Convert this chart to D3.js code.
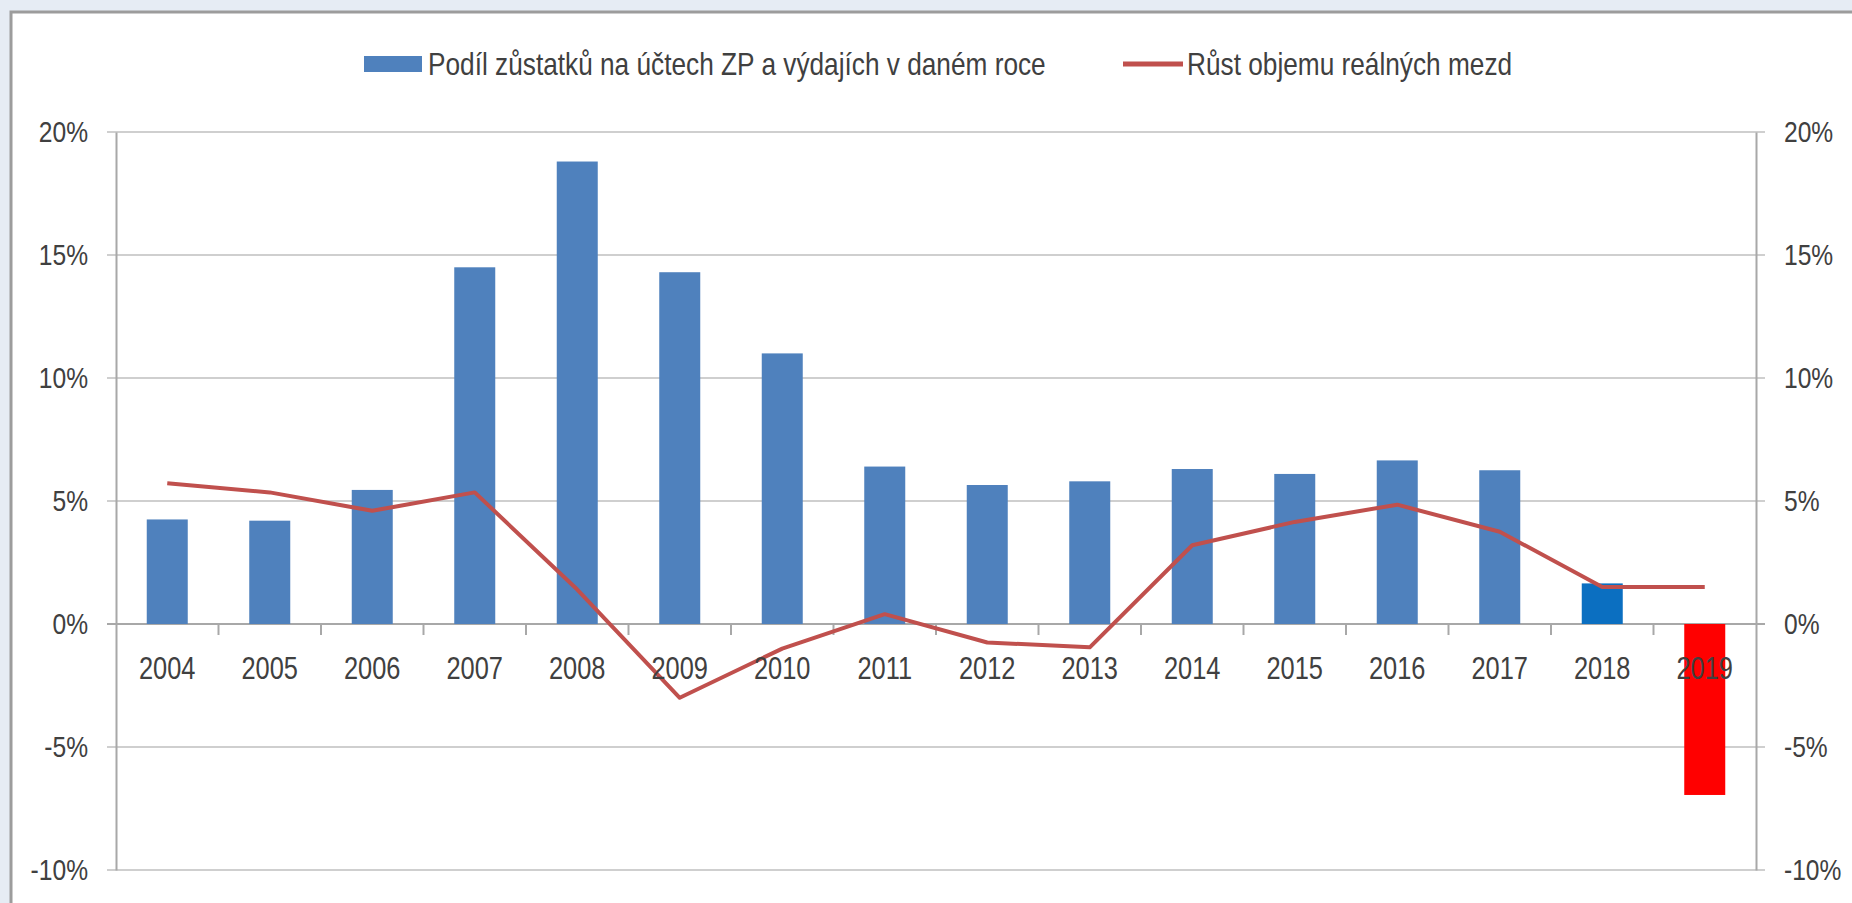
<!DOCTYPE html>
<html>
<head>
<meta charset="utf-8">
<script src="https://cdn.jsdelivr.net/npm/d3@7"></script>
<style>
  html, body { margin: 0; padding: 0; background: #e6ecf4; overflow: hidden; }
  svg { display: block; }
  text { font-family: 'Liberation Sans', Arial, sans-serif; fill: #404040; }
</style>
</head>
<body>
<svg id="chart" width="1852" height="903"></svg>
<script>
const years = ["2004","2005","2006","2007","2008","2009","2010","2011","2012","2013","2014","2015","2016","2017","2018","2019"];
const barValues = [4.25, 4.2, 5.45, 14.5, 18.8, 14.3, 11.0, 6.4, 5.65, 5.8, 6.3, 6.1, 6.65, 6.25, 1.65, -6.95];
const lineValues = [5.72, 5.35, 4.6, 5.35, 1.4, -3.0, -1.0, 0.4, -0.75, -0.95, 3.2, 4.15, 4.85, 3.75, 1.5, 1.5];
const yTicks = [-10, -5, 0, 5, 10, 15, 20];
const legendLabels = ["Podíl zůstatků na účtech ZP a výdajích v daném roce", "Růst objemu reálných mezd"];
const barColors = years.map((y, i) => i === 14 ? "#0b6fc1" : (i === 15 ? "#ff0000" : "#4f81bd"));

const SX = 0.82; // narrow-font emulation
function narrow(sel) {
  sel.each(function () {
    const t = d3.select(this);
    const xv = +(t.attr("x") || 0);
    t.attr("x", xv / SX).attr("transform", `scale(${SX},1)`);
  });
}

const svg = d3.select("#chart");
const plotLeft = 116, plotRight = 1756, plotTop = 132, plotBottom = 870;

// frame
svg.append("rect").attr("x", 11).attr("y", 12).attr("width", 1900).attr("height", 950)
  .attr("fill", "#ffffff").attr("stroke", "#9c9c9c").attr("stroke-width", 3);

const x = d3.scaleBand().domain(years).range([plotLeft, plotRight]).paddingInner(0.6).paddingOuter(0.3);
const y = d3.scaleLinear().domain([-10, 20]).range([plotBottom, plotTop]);
const step = x.step();

// gridlines
svg.append("g").selectAll("line").data(yTicks).join("line")
  .attr("x1", plotLeft - 9).attr("x2", plotRight + 9)
  .attr("y1", d => y(d)).attr("y2", d => y(d))
  .attr("stroke", d => d === 0 ? "#a8a8a8" : "#cfcfcf").attr("stroke-width", 2);

// left axis
const gL = svg.append("g").attr("transform", `translate(${plotLeft},0)`)
  .call(d3.axisLeft(y).tickValues(yTicks).tickFormat(d => d + "%").tickSize(0).tickPadding(28));
gL.attr("font-family", null).attr("font-size", null);
gL.select(".domain").attr("stroke", "#a8a8a8").attr("stroke-width", 2);
gL.selectAll("text").style("font-size", "30px").attr("fill", "#404040").call(narrow);

// right axis
const gR = svg.append("g").attr("transform", `translate(${plotRight},0)`)
  .call(d3.axisRight(y).tickValues(yTicks).tickFormat(d => d + "%").tickSize(0).tickPadding(28));
gR.attr("font-family", null).attr("font-size", null);
gR.select(".domain").attr("stroke", "#a8a8a8").attr("stroke-width", 2);
gR.selectAll("text").style("font-size", "30px").attr("fill", "#404040").call(narrow);

// bars
svg.append("g").selectAll("rect").data(years).join("rect")
  .attr("x", d => x(d))
  .attr("width", x.bandwidth())
  .attr("y", (d, i) => y(Math.max(0, barValues[i])))
  .attr("height", (d, i) => Math.abs(y(barValues[i]) - y(0)))
  .attr("fill", (d, i) => barColors[i]);

// x axis tick marks at band boundaries
svg.append("g").selectAll("line").data(years.slice(1)).join("line")
  .attr("x1", d => x(d) - (step - x.bandwidth()) / 2).attr("x2", d => x(d) - (step - x.bandwidth()) / 2)
  .attr("y1", y(0)).attr("y2", y(0) + 11)
  .attr("stroke", "#a8a8a8").attr("stroke-width", 2);

// line
const line = d3.line().x((d, i) => x(years[i]) + x.bandwidth() / 2).y(d => y(d));
svg.append("path").datum(lineValues).attr("d", line)
  .attr("fill", "none").attr("stroke", "#c0504d").attr("stroke-width", 4).attr("stroke-linejoin", "round");

// x labels (above bars)
const gX = svg.append("g").attr("transform", `translate(0,${y(0)})`)
  .call(d3.axisBottom(x).tickSize(0).tickPadding(33));
gX.attr("font-family", null).attr("font-size", null);
gX.select(".domain").remove();
gX.selectAll("text").style("font-size", "31px").attr("fill", "#404040").call(narrow);

// legend
const lg = svg.append("g");
lg.append("rect").attr("x", 364).attr("y", 56).attr("width", 58).attr("height", 16).attr("fill", "#4f81bd");
lg.append("text").attr("x", 428).attr("y", 75).style("font-size", "32px").text(legendLabels[0]).call(narrow);
lg.append("line").attr("x1", 1123).attr("x2", 1183).attr("y1", 64).attr("y2", 64)
  .attr("stroke", "#c0504d").attr("stroke-width", 5);
lg.append("text").attr("x", 1187).attr("y", 75).style("font-size", "32px").text(legendLabels[1]).call(narrow);
</script>
</body>
</html>
